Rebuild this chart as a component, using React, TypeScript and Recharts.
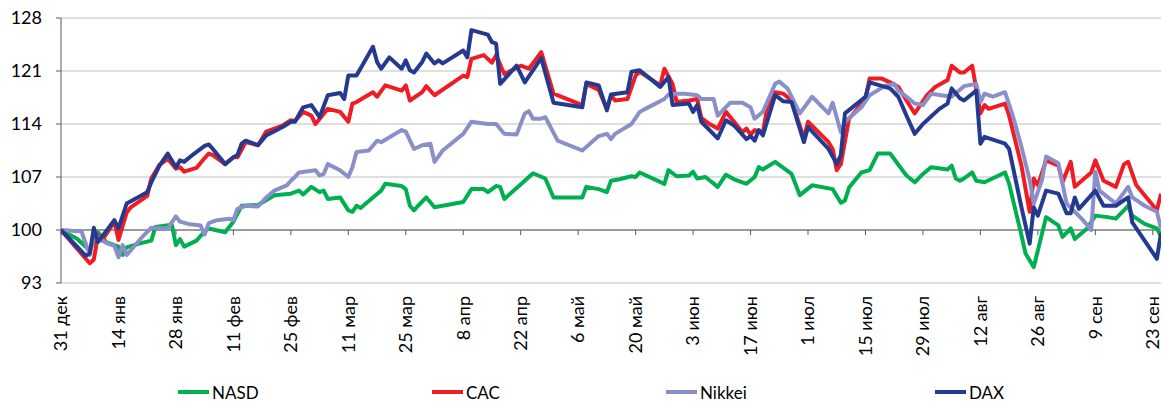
import React from 'react';
import { LineChart, Line, XAxis, YAxis, CartesianGrid, ReferenceLine } from 'recharts';

// days counted from 31 дек, one tick label every two weeks
const tickDays = [0, 14, 28, 42, 56, 70, 84, 98, 112, 126, 140, 154, 168, 182, 196, 210, 224, 238, 252, 266];
const tickLabels = ['31 дек', '14 янв', '28 янв', '11 фев', '25 фев', '11 мар', '25 мар', '8 апр', '22 апр', '6 май',
  '20 май', '3 июн', '17 июн', '1 июл', '15 июл', '29 июл', '12 авг', '26 авг', '9 сен', '23 сен'];
const yTicks = [93, 100, 107, 114, 121, 128];

type Pt = [number, number]; // [day, index value]

const nasd: Pt[] = [
  [0, 100], [4, 98.8], [7, 97.3], [9, 99.7], [11, 98.4], [14, 97.8], [15, 96.7], [16, 97.7], [19, 98.2], [22, 98.6],
  [23, 100.4], [27, 100.7], [28, 98.0], [29, 98.8], [30, 97.8], [33, 98.6], [35, 99.8], [36, 100.2], [40, 99.7], [42, 101.1],
  [44, 103.2], [48, 103.3], [52, 104.6], [56, 104.8], [58, 105.2], [59, 104.7], [61, 105.7], [63, 105.0], [64, 105.2], [65, 104.1],
  [68, 104.3], [70, 102.6], [71, 102.4], [72, 103.2], [73, 102.9], [76, 104.3], [78, 105.2], [79, 106.1], [83, 105.8], [84, 105.4],
  [85, 103.2], [86, 102.6], [87, 103.2], [89, 104.3], [91, 103.0], [98, 103.7], [100, 105.4], [103, 105.4], [104, 105.0], [106, 105.8],
  [107, 105.7], [108, 104.1], [113, 106.5], [115, 107.5], [118, 106.8], [120, 104.3], [127, 104.3], [128, 105.7], [131, 105.4], [133, 105.0],
  [134, 106.5], [136, 106.7], [139, 107.1], [140, 107.0], [141, 107.6], [147, 106.1], [148, 107.9], [150, 107.1], [153, 107.2], [154, 107.7],
  [155, 106.8], [157, 107.0], [160, 105.7], [162, 107.3], [164, 106.7], [167, 106.1], [169, 107.0], [170, 108.3], [171, 108.0], [174, 109.0],
  [176, 108.2], [178, 107.4], [180, 104.6], [183, 105.9], [188, 105.4], [190, 103.6], [191, 103.9], [192, 105.6], [195, 107.6], [197, 107.9],
  [199, 110.1], [202, 110.1], [205, 107.9], [206, 107.2], [208, 106.3], [210, 107.4], [212, 108.3], [216, 108.0], [217, 108.5], [218, 106.8],
  [219, 106.5], [220, 106.8], [222, 107.6], [223, 106.5], [225, 106.3], [230, 107.6], [231, 106.1], [234, 99.3], [235, 96.9], [237, 95.1],
  [240, 101.7], [243, 100.6], [244, 99.1], [246, 100.2], [247, 98.8], [250, 100.2], [252, 101.9], [255, 101.7], [257, 101.5], [260, 103.2],
  [261, 101.9], [264, 100.8], [267, 100.2], [268, 99.2],
];

const cac: Pt[] = [
  [0, 100], [7, 95.6], [8, 96.1], [9, 99.3], [10, 98.6], [13, 101.1], [14, 98.7], [16, 102.3], [17, 103.0], [21, 104.5],
  [22, 106.8], [24, 108.6], [26, 109.4], [28, 108.1], [29, 108.3], [30, 107.7], [33, 108.2], [35, 109.5], [36, 110.1], [37, 109.9],
  [40, 108.7], [42, 109.6], [43, 109.6], [45, 111.6], [48, 111.2], [50, 113.0], [54, 113.8], [56, 114.5], [57, 114.4], [59, 115.6],
  [61, 115.1], [62, 114.0], [65, 116.0], [68, 115.6], [70, 114.3], [71, 116.7], [72, 116.9], [76, 118.2], [77, 117.6], [79, 119.1],
  [83, 118.4], [84, 119.1], [85, 117.1], [88, 118.2], [89, 119.0], [91, 117.8], [98, 120.4], [99, 120.2], [100, 122.6], [103, 123.1],
  [105, 122.1], [106, 123.1], [108, 120.6], [112, 121.7], [114, 121.3], [117, 123.5], [120, 118.0], [127, 116.5], [128, 119.3], [131, 118.5],
  [133, 116.0], [134, 117.8], [135, 117.1], [138, 117.3], [140, 120.4], [141, 120.9], [146, 119.1], [147, 121.3], [149, 119.3], [150, 116.9],
  [153, 117.1], [155, 117.3], [156, 114.8], [158, 114.0], [160, 113.4], [162, 115.6], [164, 114.3], [166, 112.9], [167, 113.4], [168, 112.6],
  [169, 113.2], [171, 112.9], [172, 116.0], [174, 118.2], [176, 118.0], [178, 117.1], [181, 112.1], [182, 114.3], [187, 111.6], [188, 110.7],
  [189, 107.9], [190, 108.7], [192, 114.7], [196, 117.3], [197, 120.0], [200, 120.0], [202, 119.5], [204, 118.9], [206, 117.1], [208, 115.4],
  [211, 117.8], [213, 118.9], [216, 119.8], [217, 121.7], [219, 120.8], [220, 120.8], [222, 121.7], [224, 115.4], [225, 116.5], [226, 116.0],
  [230, 116.7], [231, 115.1], [234, 108.5], [236, 102.4], [237, 106.8], [238, 105.9], [240, 109.2], [243, 108.5], [244, 106.3], [246, 109.0],
  [247, 105.7], [251, 107.6], [252, 109.2], [254, 106.5], [257, 105.7], [259, 108.7], [260, 109.0], [262, 105.9], [267, 102.6], [268, 104.8],
];

const nikkei: Pt[] = [
  [0, 100], [5, 99.8], [7, 96.7], [8, 99.4], [11, 98.3], [13, 97.9], [14, 96.4], [15, 98.0], [16, 96.7], [20, 99.2],
  [22, 100.3], [26, 100.2], [28, 101.8], [29, 101.1], [31, 100.8], [34, 100.6], [35, 99.4], [36, 100.9], [38, 101.3], [41, 101.5],
  [42, 101.3], [43, 102.8], [45, 103.2], [48, 103.1], [50, 104.3], [52, 105.2], [55, 105.9], [56, 106.5], [57, 107.0], [58, 107.6],
  [62, 107.9], [63, 107.2], [64, 107.4], [65, 108.7], [68, 107.9], [70, 107.0], [71, 108.3], [72, 110.3], [75, 110.5], [77, 111.8],
  [78, 111.6], [83, 113.2], [84, 113.0], [86, 110.7], [88, 111.2], [90, 111.4], [91, 109.0], [93, 110.5], [98, 112.7], [100, 114.3],
  [104, 114.0], [106, 114.0], [108, 112.7], [111, 112.6], [113, 115.4], [114, 115.7], [115, 114.7], [117, 114.7], [118, 114.9], [121, 111.8],
  [127, 110.5], [131, 112.4], [133, 112.7], [134, 112.0], [135, 112.7], [139, 114.0], [141, 115.6], [142, 115.9], [147, 117.3], [148, 117.9],
  [150, 118.0], [152, 118.0], [155, 117.8], [156, 117.3], [159, 117.3], [160, 115.1], [163, 116.8], [166, 116.8], [168, 116.2], [169, 114.7],
  [171, 115.6], [174, 119.3], [175, 119.6], [177, 118.7], [180, 115.4], [183, 117.6], [187, 115.4], [188, 116.8], [190, 112.9], [191, 114.3],
  [195, 116.2], [197, 117.8], [201, 119.1], [203, 119.3], [204, 118.4], [206, 117.6], [208, 116.7], [210, 116.5], [212, 118.0], [217, 117.6],
  [220, 119.0], [223, 119.3], [224, 116.9], [225, 118.0], [227, 117.6], [230, 118.2], [232, 114.9], [234, 111.0], [236, 106.6], [237, 103.5],
  [239, 106.6], [240, 109.7], [243, 108.8], [245, 103.5], [249, 101.3], [251, 100.0], [252, 107.7], [253, 105.2], [257, 103.5], [260, 105.7],
  [261, 104.3], [264, 103.2], [267, 102.4], [268, 100.2],
];

const dax: Pt[] = [
  [0, 100], [6, 96.6], [7, 96.9], [8, 100.3], [9, 98.4], [13, 101.3], [14, 100.2], [16, 103.5], [21, 105.0], [22, 106.3],
  [24, 108.5], [26, 110.1], [28, 108.3], [29, 109.2], [30, 109.0], [32, 109.9], [35, 111.1], [36, 111.3], [37, 110.7], [40, 108.7],
  [42, 109.6], [43, 109.9], [44, 111.4], [45, 111.8], [48, 111.2], [50, 112.5], [54, 113.6], [56, 114.3], [57, 114.3], [59, 116.2],
  [61, 116.5], [63, 114.9], [65, 117.8], [68, 118.1], [69, 117.3], [70, 120.4], [72, 120.4], [76, 124.2], [77, 122.2], [78, 121.3],
  [80, 122.8], [83, 121.3], [84, 122.4], [85, 121.1], [86, 120.8], [88, 122.2], [89, 123.3], [91, 122.0], [92, 122.4], [93, 122.0],
  [98, 123.7], [99, 122.8], [100, 126.4], [104, 125.8], [105, 124.8], [106, 124.6], [107, 119.3], [111, 121.7], [113, 119.5], [117, 122.7],
  [120, 116.8], [127, 116.2], [128, 119.5], [131, 119.1], [133, 115.8], [134, 117.9], [138, 118.2], [139, 120.9], [141, 121.1], [146, 118.9],
  [148, 120.2], [149, 116.5], [153, 116.7], [154, 115.6], [155, 116.5], [156, 114.3], [160, 112.1], [162, 114.5], [164, 113.8], [167, 112.0],
  [168, 112.4], [169, 111.8], [170, 113.2], [171, 112.5], [174, 117.8], [176, 117.0], [178, 116.9], [181, 111.6], [182, 113.6], [187, 110.7],
  [189, 108.7], [190, 109.9], [191, 115.4], [196, 117.6], [197, 119.5], [202, 118.7], [204, 117.6], [206, 115.1], [208, 112.7], [210, 114.0],
  [214, 116.0], [216, 116.7], [217, 118.7], [219, 117.4], [220, 117.1], [223, 118.4], [224, 111.4], [225, 112.3], [230, 111.4], [231, 110.7],
  [234, 103.0], [236, 98.2], [237, 103.0], [238, 101.9], [240, 105.2], [243, 104.8], [245, 102.2], [246, 102.2], [247, 104.3], [248, 102.8],
  [252, 105.2], [254, 103.2], [257, 103.2], [260, 104.3], [261, 101.0], [267, 96.2], [268, 99.6],
];

const series = [
  { name: 'NASD', color: '#00B050', pts: nasd, legendX: 178 },
  { name: 'CAC', color: '#F01C24', pts: cac, legendX: 432 },
  { name: 'Nikkei', color: '#8A8FCA', pts: nikkei, legendX: 666 },
  { name: 'DAX', color: '#243A91', pts: dax, legendX: 935 },
];

const FONT = 'Lato, "Open Sans", sans-serif';
const AXIS = '#595959';

const toRows = (pts: Pt[]) => pts.map(([d, v]) => ({ d, v }));

const DateTick = ({ x, y, payload }: any) => {
  const i = tickDays.indexOf(payload.value);
  return (
    <text transform={`translate(${x},${y + 13}) rotate(-90)`} textAnchor="end" dy="0.35em"
      fontSize={18} fontFamily={FONT} fill="#000">
      {tickLabels[i]}
    </text>
  );
};

export default function App() {
  return (
    <div style={{ position: 'absolute', left: 0, top: 0, width: 1164, height: 405, background: '#fff' }}>
      <LineChart width={1164} height={405} margin={{ top: 18, right: 3, left: 0, bottom: 0 }}>
        <CartesianGrid horizontal vertical={false} stroke="#bfbfbf" />
        <XAxis dataKey="d" type="number" domain={[0, 268]} ticks={tickDays} interval={0} height={122}
          axisLine={false} tickLine={false} tickSize={0} tickMargin={0} tick={<DateTick />} allowDataOverflow />
        <YAxis type="number" domain={[93, 128]} ticks={yTicks} interval={0} width={61}
          axisLine={{ stroke: AXIS }} tickLine={{ stroke: AXIS }} tickSize={5} tickMargin={14}
          tick={{ fill: '#000', fontSize: 18, fontFamily: FONT }} />
        <ReferenceLine y={100} stroke={AXIS} strokeWidth={1} />
        {tickDays.map((d) => (
          <ReferenceLine key={d} segment={[{ x: d, y: 100 }, { x: d, y: 99.33 }]} stroke={AXIS} strokeWidth={1} />
        ))}
        {series.map((s) => (
          <Line key={s.name} data={toRows(s.pts)} dataKey="v" name={s.name} type="linear" stroke={s.color}
            strokeWidth={4} dot={false} activeDot={false} isAnimationActive={false} strokeLinejoin="round" />
        ))}
      </LineChart>
      {series.map((s) => (
        <div key={s.name} style={{ position: 'absolute', left: s.legendX, top: 381, height: 22, display: 'flex',
          alignItems: 'center', fontFamily: FONT, fontSize: 17, color: '#000' }}>
          <span style={{ display: 'inline-block', width: 31, height: 4, background: s.color, marginRight: 3 }} />
          <span>{s.name}</span>
        </div>
      ))}
    </div>
  );
}
